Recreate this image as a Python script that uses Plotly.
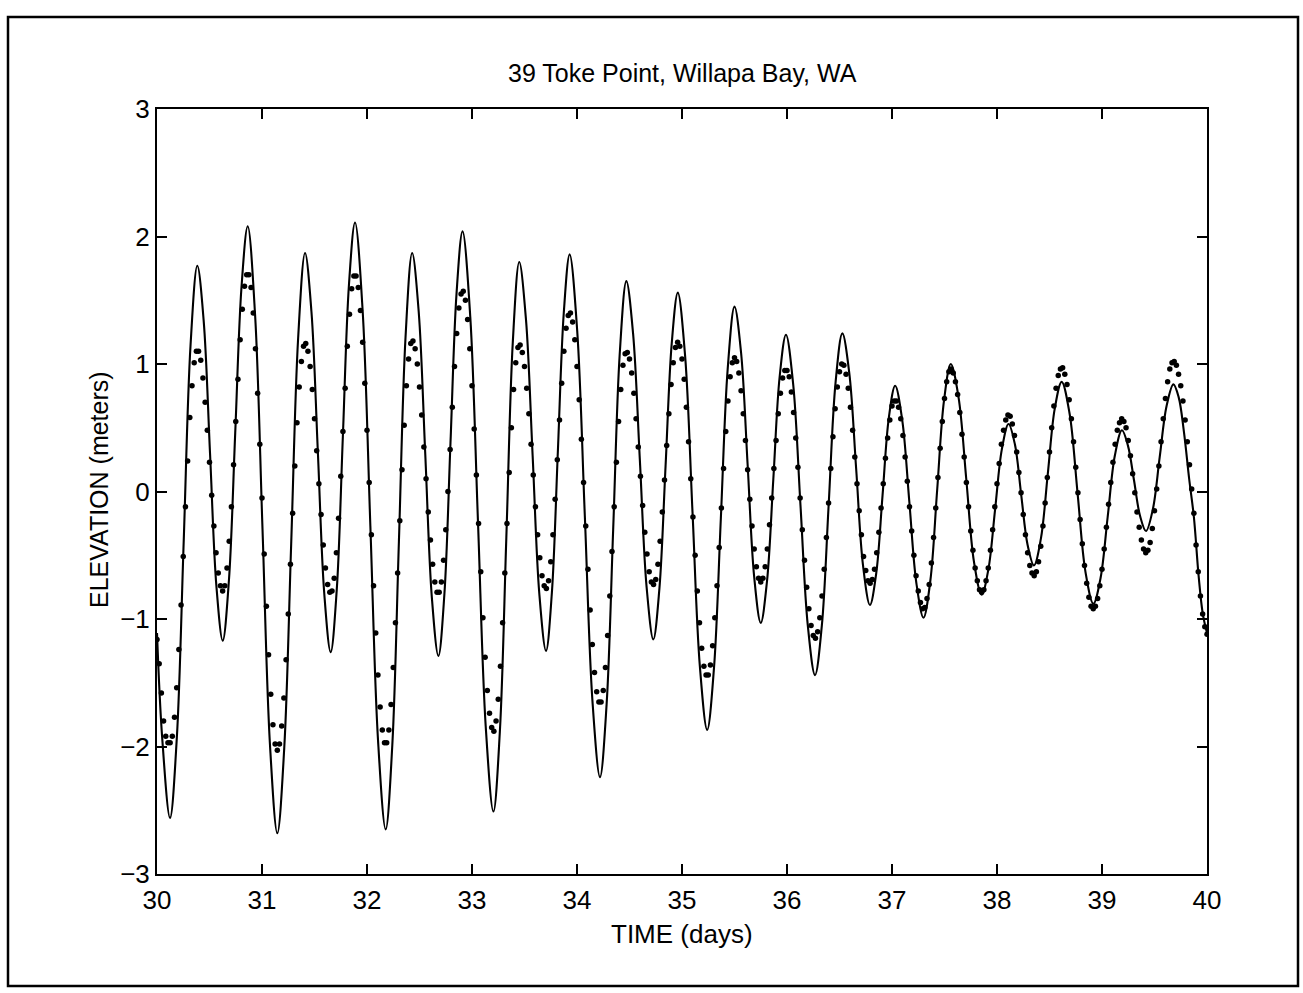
import numpy as np
import plotly.graph_objects as go

# ---------------------------------------------------------------
# Toke Point (Willapa Bay, WA) water elevation, days 30-40
# ---------------------------------------------------------------

# Observed elevation (m), one sample every half hour starting at day 30.0
obs_start_day = 30.0
obs_step_hours = 0.5
observed = [
    -1.16, -1.35, -1.58, -1.80, -1.92, -1.97, -1.97, -1.92, -1.77, -1.54, -1.24, -0.89,
    -0.51, -0.12, 0.24, 0.58, 0.83, 1.01, 1.10, 1.10, 1.03, 0.89, 0.70, 0.48,
    0.23, -0.03, -0.27, -0.48, -0.64, -0.74, -0.78, -0.74, -0.60, -0.39, -0.12, 0.21,
    0.55, 0.88, 1.19, 1.43, 1.61, 1.70, 1.70, 1.60, 1.40, 1.12, 0.77, 0.37,
    -0.05, -0.49, -0.90, -1.28, -1.59, -1.83, -1.98, -2.03, -1.98, -1.84, -1.62, -1.32,
    -0.96, -0.57, -0.17, 0.20, 0.54, 0.82, 1.02, 1.14, 1.16, 1.10, 0.98, 0.80,
    0.57, 0.32, 0.06, -0.18, -0.42, -0.60, -0.73, -0.79, -0.78, -0.68, -0.48, -0.21,
    0.12, 0.47, 0.81, 1.14, 1.39, 1.59, 1.69, 1.69, 1.60, 1.42, 1.17, 0.85,
    0.48, 0.07, -0.34, -0.74, -1.11, -1.44, -1.69, -1.87, -1.97, -1.97, -1.87, -1.67,
    -1.38, -1.03, -0.64, -0.23, 0.17, 0.52, 0.83, 1.04, 1.16, 1.18, 1.12, 1.00,
    0.82, 0.60, 0.35, 0.10, -0.16, -0.38, -0.57, -0.71, -0.79, -0.79, -0.71, -0.54,
    -0.30, 0.00, 0.33, 0.66, 0.98, 1.24, 1.44, 1.55, 1.57, 1.50, 1.35, 1.12,
    0.83, 0.49, 0.13, -0.25, -0.63, -0.99, -1.30, -1.56, -1.74, -1.85, -1.88, -1.80,
    -1.63, -1.37, -1.03, -0.64, -0.25, 0.15, 0.50, 0.80, 1.01, 1.13, 1.15, 1.09,
    0.98, 0.81, 0.61, 0.37, 0.13, -0.12, -0.34, -0.52, -0.66, -0.74, -0.76, -0.70,
    -0.55, -0.34, -0.06, 0.25, 0.56, 0.85, 1.10, 1.28, 1.38, 1.40, 1.33, 1.19,
    0.98, 0.72, 0.41, 0.07, -0.27, -0.61, -0.93, -1.20, -1.42, -1.57, -1.65, -1.65,
    -1.56, -1.38, -1.13, -0.82, -0.47, -0.12, 0.23, 0.55, 0.80, 0.99, 1.08, 1.09,
    1.04, 0.93, 0.77, 0.57, 0.35, 0.12, -0.11, -0.32, -0.49, -0.63, -0.71, -0.73,
    -0.69, -0.57, -0.39, -0.16, 0.09, 0.36, 0.61, 0.84, 1.01, 1.13, 1.17, 1.14,
    1.04, 0.88, 0.66, 0.39, 0.10, -0.20, -0.50, -0.78, -1.03, -1.23, -1.37, -1.44,
    -1.44, -1.36, -1.21, -0.99, -0.74, -0.44, -0.13, 0.18, 0.47, 0.71, 0.90, 1.01,
    1.05, 1.02, 0.93, 0.79, 0.61, 0.40, 0.17, -0.06, -0.27, -0.45, -0.59, -0.68,
    -0.71, -0.68, -0.59, -0.45, -0.26, -0.05, 0.18, 0.40, 0.61, 0.77, 0.89, 0.95,
    0.95, 0.90, 0.78, 0.62, 0.42, 0.19, -0.05, -0.30, -0.54, -0.75, -0.92, -1.05,
    -1.13, -1.15, -1.10, -0.99, -0.82, -0.61, -0.36, -0.09, 0.18, 0.43, 0.65, 0.82,
    0.94, 1.00, 0.99, 0.92, 0.81, 0.66, 0.48, 0.27, 0.06, -0.15, -0.34, -0.51,
    -0.62, -0.70, -0.72, -0.69, -0.61, -0.48, -0.32, -0.13, 0.06, 0.26, 0.42, 0.56,
    0.67, 0.71, 0.71, 0.66, 0.57, 0.44, 0.27, 0.08, -0.12, -0.31, -0.50, -0.66,
    -0.78, -0.87, -0.92, -0.91, -0.84, -0.73, -0.56, -0.36, -0.13, 0.11, 0.34, 0.55,
    0.73, 0.86, 0.94, 0.96, 0.93, 0.86, 0.76, 0.62, 0.45, 0.27, 0.07, -0.12,
    -0.31, -0.46, -0.60, -0.70, -0.77, -0.79, -0.77, -0.70, -0.60, -0.46, -0.30, -0.12,
    0.06, 0.22, 0.37, 0.48, 0.56, 0.60, 0.59, 0.53, 0.44, 0.31, 0.15, -0.01,
    -0.18, -0.34, -0.48, -0.58, -0.64, -0.66, -0.63, -0.55, -0.43, -0.27, -0.09, 0.11,
    0.31, 0.50, 0.67, 0.81, 0.91, 0.96, 0.97, 0.92, 0.84, 0.72, 0.57, 0.39,
    0.19, -0.01, -0.22, -0.41, -0.58, -0.72, -0.83, -0.90, -0.92, -0.90, -0.84, -0.74,
    -0.61, -0.45, -0.28, -0.10, 0.07, 0.23, 0.37, 0.48, 0.54, 0.57, 0.55, 0.50,
    0.40, 0.28, 0.14, -0.01, -0.16, -0.28, -0.38, -0.45, -0.48, -0.46, -0.40, -0.29,
    -0.15, 0.02, 0.20, 0.39, 0.57, 0.73, 0.86, 0.96, 1.01, 1.02, 0.99, 0.92,
    0.83, 0.71, 0.56, 0.39, 0.21, 0.02, -0.17, -0.42, -0.63, -0.82, -0.96, -1.06,
    -1.12,
]

# Model (predicted) elevation: turning points of each tide plus points along the flanks
model_days = [
    30.000, 30.0485, 30.124,
    30.189, 30.254, 30.319, 30.384,
    30.4445, 30.505, 30.5655, 30.626,
    30.6855, 30.745, 30.8045, 30.864,
    30.9345, 31.005, 31.0755, 31.146,
    31.212, 31.278, 31.344, 31.410,
    31.471, 31.532, 31.593, 31.654,
    31.712, 31.770, 31.828, 31.886,
    31.959, 32.032, 32.105, 32.178,
    32.241, 32.304, 32.367, 32.430,
    32.4925, 32.555, 32.6175, 32.680,
    32.7375, 32.795, 32.8525, 32.910,
    32.9835, 33.057, 33.1305, 33.204,
    33.2655, 33.327, 33.3885, 33.450,
    33.514, 33.5775, 33.641, 33.705,
    33.761, 33.8175, 33.874, 33.930,
    34.002, 34.0745, 34.147, 34.219,
    34.282, 34.3445, 34.407, 34.470,
    34.534, 34.5985, 34.663, 34.727,
    34.785, 34.8435, 34.902, 34.960,
    35.030, 35.100, 35.170, 35.240,
    35.305, 35.370, 35.435, 35.500,
    35.5625, 35.625, 35.6875, 35.750,
    35.810, 35.870, 35.930, 35.990,
    36.059, 36.1285, 36.198, 36.267,
    36.332, 36.397, 36.462, 36.527,
    36.593, 36.6585, 36.724, 36.790,
    36.850, 36.910, 36.970, 37.030,
    37.0975, 37.165, 37.2325, 37.300,
    37.365, 37.430, 37.495, 37.560,
    37.6335, 37.707, 37.7805, 37.854,
    37.918, 37.982, 38.046, 38.110,
    38.1705, 38.231, 38.2915, 38.352,
    38.418, 38.484, 38.550, 38.616,
    38.6915, 38.767, 38.8425, 38.918,
    38.986, 39.054, 39.122, 39.190,
    39.247, 39.3045, 39.362, 39.419,
    39.484, 39.5495, 39.615, 39.680,
    39.730, 39.780, 39.830, 39.875, 39.920, 39.960, 40.000,
]
model_elev = [
    -1.11, -1.92, -2.56,
    -1.93, -0.40, 1.14, 1.77,
    1.34, 0.30, -0.74, -1.17,
    -0.69, 0.46, 1.60, 2.08,
    1.38, -0.30, -1.98, -2.68,
    -2.01, -0.41, 1.20, 1.87,
    1.41, 0.31, -0.80, -1.26,
    -0.77, 0.43, 1.62, 2.11,
    1.41, -0.27, -1.95, -2.65,
    -1.99, -0.39, 1.21, 1.87,
    1.41, 0.29, -0.83, -1.29,
    -0.80, 0.38, 1.55, 2.04,
    1.37, -0.24, -1.84, -2.51,
    -1.88, -0.36, 1.17, 1.80,
    1.35, 0.28, -0.80, -1.25,
    -0.79, 0.31, 1.40, 1.86,
    1.26, -0.19, -1.64, -2.24,
    -1.67, -0.30, 1.08, 1.65,
    1.24, 0.25, -0.75, -1.16,
    -0.76, 0.20, 1.16, 1.56,
    1.06, -0.16, -1.37, -1.87,
    -1.38, -0.21, 0.96, 1.45,
    1.09, 0.21, -0.67, -1.03,
    -0.70, 0.10, 0.90, 1.23,
    0.84, -0.11, -1.05, -1.44,
    -1.05, -0.10, 0.85, 1.24,
    0.93, 0.18, -0.58, -0.89,
    -0.64, -0.03, 0.58, 0.83,
    0.56, -0.08, -0.72, -0.99,
    -0.70, 0.01, 0.71, 1.00,
    0.74, 0.10, -0.55, -0.81,
    -0.61, -0.14, 0.33, 0.53,
    0.37, -0.03, -0.42, -0.58,
    -0.37, 0.14, 0.65, 0.86,
    0.61, -0.01, -0.63, -0.88,
    -0.68, -0.20, 0.28, 0.48,
    0.36, 0.09, -0.19, -0.31,
    -0.14, 0.27, 0.67, 0.84,
    0.74, 0.47, 0.10, -0.20, -0.66, -0.96, -1.11,
]

x_ticks = [30, 31, 32, 33, 34, 35, 36, 37, 38, 39, 40]
y_ticks = [-3, -2, -1, 0, 1, 2, 3]

title_text = "39 Toke Point, Willapa Bay, WA"
x_label = "TIME (days)"
y_label = "ELEVATION (meters)"

# sample times of the half-hourly record, in days
obs_days = obs_start_day + np.arange(len(observed)) * obs_step_hours / 24.0

FONT = "Liberation Sans, Arial, Helvetica, sans-serif"
W, H = 1303, 993
M_L, M_R, M_T, M_B = 157, 96, 109, 119
PW, PH = W - M_L - M_R, H - M_T - M_B


def px_to_paper(px, py):
    return (px - M_L) / PW, (H - M_B - py) / PH


fig = go.Figure()
fig.add_trace(go.Scatter(
    x=model_days, y=model_elev, mode="lines",
    line=dict(color="black", width=2.1, shape="spline", smoothing=1.0),
    hoverinfo="skip",
))
fig.add_trace(go.Scatter(
    x=obs_days, y=observed, mode="markers",
    marker=dict(color="black", size=5.5, line=dict(width=0)),
))

axis_common = dict(
    showline=True, linecolor="black", linewidth=2, mirror="ticks",
    ticks="inside", ticklen=10, tickwidth=1.5, tickcolor="black",
    showgrid=False, zeroline=False,
    tickfont=dict(family=FONT, size=26, color="black"),
)
fig.update_xaxes(range=[30, 40], tickvals=x_ticks, ticklabelstandoff=2, **axis_common)
fig.update_yaxes(range=[-3, 3], tickvals=y_ticks, **axis_common)

tx, ty = px_to_paper(682, 73)
xx, xy = px_to_paper(682, 934)
yx, yy = px_to_paper(99, 490)
fig.add_annotation(text=title_text, x=tx, y=ty, xref="paper", yref="paper",
                   showarrow=False, xanchor="center", yanchor="middle",
                   font=dict(family=FONT, size=25, color="black"))
fig.add_annotation(text=x_label, x=xx, y=xy, xref="paper", yref="paper",
                   showarrow=False, xanchor="center", yanchor="middle", borderpad=0,
                   font=dict(family=FONT, size=26, color="black"))
fig.add_annotation(text=y_label, x=yx, y=yy, xref="paper", yref="paper",
                   showarrow=False, xanchor="center", yanchor="middle", textangle=-90,
                   font=dict(family=FONT, size=25, color="black"))

# outer figure border
fx0, fy0 = px_to_paper(8, 986)
fx1, fy1 = px_to_paper(1298, 17)
fig.add_shape(type="rect", xref="paper", yref="paper",
              x0=fx0, y0=fy0, x1=fx1, y1=fy1,
              line=dict(color="black", width=2.5), fillcolor="rgba(0,0,0,0)")

fig.update_layout(
    width=W, height=H,
    margin=dict(l=M_L, r=M_R, t=M_T, b=M_B, pad=0),
    paper_bgcolor="white", plot_bgcolor="white",
    showlegend=False,
)

fig.write_html("out.html")
